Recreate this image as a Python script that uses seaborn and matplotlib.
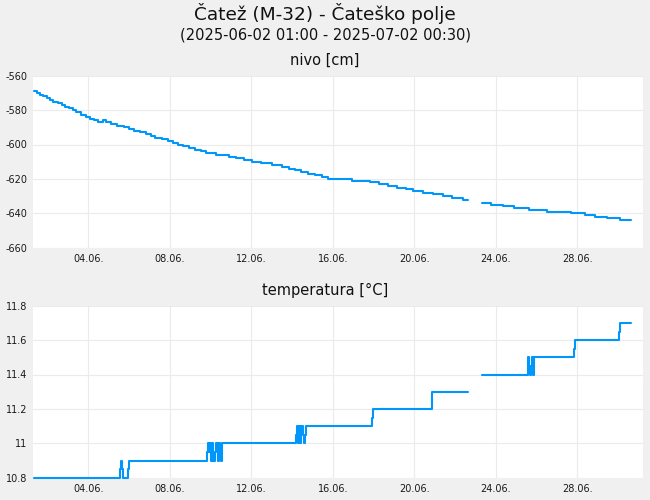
import numpy as np
import pandas as pd
import seaborn as sns
import matplotlib.pyplot as plt
import matplotlib.dates as mdates
import matplotlib.ticker as mticker

# stil: svetlo siva podlaga, bela risalna površina
sns.set_theme(style='whitegrid', rc={
    'figure.facecolor': '#f0f0f0',
    'axes.facecolor': 'white',
    'grid.color': '#ebebeb',
    'grid.linewidth': 0.8,
    'axes.edgecolor': 'white',
})
plt.rcParams['font.family'] = ['DejaVu Sans']
plt.rcParams['axes.unicode_minus'] = False

LINE_COLOR = '#0096fa'

# čas kot dan v mesecu (4.0 = 04.06. 00:00), vrednosti ob spremembi stopnice
nivo_day = [1.335, 1.467, 1.63, 1.76, 1.99, 2.12, 2.28, 2.53, 2.69, 2.86,
            3.07, 3.23, 3.40, 3.64, 3.89, 4.08, 4.28, 4.49, 4.71, 4.87,
            5.11, 5.39, 5.77, 6.01, 6.26, 6.54, 6.83, 7.06, 7.27, 7.63,
            7.93, 8.14, 8.39, 8.66, 8.94, 9.24, 9.52, 9.78, 10.25, 10.91,
            11.25, 11.66, 12.05, 12.46, 13.03, 13.52, 13.85, 14.14, 14.42, 14.80,
            15.13, 15.48, 15.78, 16.93, 17.83, 18.28, 18.72, 19.14, 19.59, 19.95,
            20.44, 20.93, 21.39, 21.84, 22.38, 22.62,
            23.34, 23.75, 24.37, 24.89, 25.64, 26.50, 27.68, 28.38, 28.87, 29.47,
            30.10, 30.62]
nivo_cm = [-569, -570, -571, -572, -573, -574, -575, -576, -577, -578,
           -579, -580, -581, -583, -584, -585, -586, -587, -586, -587,
           -588, -589, -590, -591, -592, -593, -594, -595, -596, -597,
           -598, -599, -600, -601, -602, -603, -604, -605, -606, -607,
           -608, -609, -610, -611, -612, -613, -614, -615, -616, -617,
           -618, -619, -620, -621, -622, -623, -624, -625, -626, -627,
           -628, -629, -630, -631, -632, -632,
           -634, -635, -636, -637, -638, -639, -640, -641, -642, -643,
           -644, -644]
nivo_seg = [0] * 66 + [1] * 12

temp_day = [1.335, 5.556, 5.605, 5.639, 5.688, 5.948, 6.012,
            9.84, 9.89, 9.94, 9.97, 10.01, 10.09, 10.12, 10.22, 10.28,
            10.35, 10.41, 10.46, 10.53, 10.56,
            14.19, 14.24, 14.31, 14.36, 14.40, 14.44, 14.52, 14.59, 14.64, 14.68,
            17.94, 17.99, 20.88, 22.62,
            23.34, 25.60, 25.635, 25.70, 25.73, 25.76, 25.81, 25.84, 25.87,
            27.85, 27.90, 30.06, 30.11, 30.62]
temp_c = [10.8, 10.85, 10.9, 10.85, 10.8, 10.85, 10.9,
          10.95, 11.0, 10.95, 11.0, 10.9, 11.0, 10.9, 10.95, 11.0,
          10.9, 11.0, 10.95, 10.9, 11.0,
          11.05, 11.1, 11.0, 11.1, 11.0, 11.1, 11.05, 11.0, 11.05, 11.1,
          11.15, 11.2, 11.3, 11.3,
          11.4, 11.5, 11.45, 11.4, 11.45, 11.5, 11.45, 11.4, 11.5,
          11.55, 11.6, 11.65, 11.7, 11.7]
temp_seg = [0] * 35 + [1] * 14

BASE = pd.Timestamp('2025-05-31')


def to_df(day, val, seg):
    return pd.DataFrame({'t': BASE + pd.to_timedelta(day, unit='D'),
                         'v': val, 'seg': seg})


df_nivo = to_df(nivo_day, nivo_cm, nivo_seg)
df_temp = to_df(temp_day, temp_c, temp_seg)

fig = plt.figure(figsize=(6.5, 5), dpi=100)
ax1 = fig.add_axes([0.0512, 0.5046, 0.9385, 0.344])
ax2 = fig.add_axes([0.0512, 0.0446, 0.9385, 0.344])

for ax, df in ((ax1, df_nivo), (ax2, df_temp)):
    sns.lineplot(data=df, x='t', y='v', units='seg', estimator=None,
                 drawstyle='steps-post', color=LINE_COLOR, linewidth=1.5, ax=ax)
    for ln in ax.lines:
        ln.set_clip_on(False)
    ax.set_xlim(BASE + pd.Timedelta(days=1.30), BASE + pd.Timedelta(days=31.24))
    ax.xaxis.set_major_locator(mdates.DayLocator(bymonthday=[4, 8, 12, 16, 20, 24, 28]))
    ax.xaxis.set_major_formatter(mdates.DateFormatter('%d.%m.'))
    ax.set_xlabel('')
    ax.set_ylabel('')
    ax.tick_params(axis='both', length=0, labelsize=7, colors='#1a1a1a')
    ax.tick_params(axis='y', pad=4.5)
    ax.tick_params(axis='x', pad=4.5)
    for s in ax.spines.values():
        s.set_visible(False)

ax1.set_ylim(-660, -560)
ax1.yaxis.set_major_locator(mticker.MultipleLocator(20))

ax2.set_ylim(10.8, 11.8)
ax2.yaxis.set_major_locator(mticker.MultipleLocator(0.2))
ax2.yaxis.set_major_formatter(mticker.FuncFormatter(lambda v, p: f'{v:g}'))

fig.text(0.5, 0.9733, 'Čatež (M-32) - Čateško polje', ha='center', va='center',
         fontsize=13.3, color='#111111')
fig.text(0.5, 0.930, '(2025-06-02 01:00 - 2025-07-02 00:30)', ha='center', va='center',
         fontsize=10.5, color='#111111')
fig.text(0.5, 0.880, 'nivo [cm]', ha='center', va='center', fontsize=10.5, color='#111111')
fig.text(0.5, 0.420, 'temperatura [°C]', ha='center', va='center', fontsize=10.5,
         color='#111111')

fig.savefig('out.png', dpi=100)
